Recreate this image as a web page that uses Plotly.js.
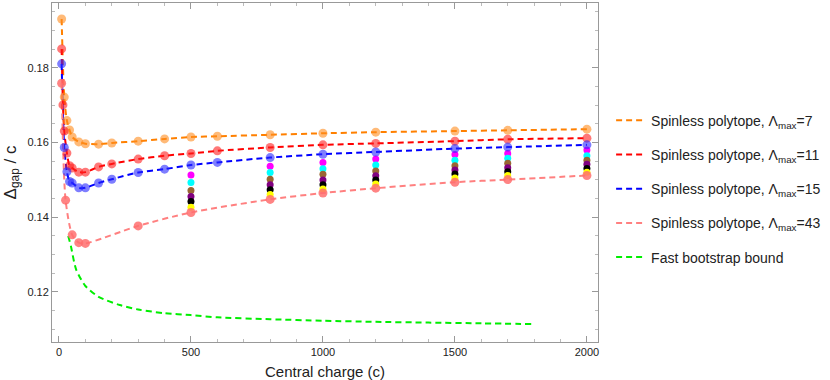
<!DOCTYPE html>
<html>
<head>
<meta charset="utf-8">
<script src="https://cdn.plot.ly/plotly-3.0.1.min.js"></script>
<style>
  html, body { margin: 0; padding: 0; background: #fff; }
  #graph-view { width: 830px; height: 380px; }
</style>
</head>
<body>
<div id="graph-view"></div>
<script>
// values
const cOrange = [10, 20, 30, 40, 50, 75, 100, 150, 200, 300, 400, 500, 600, 800, 1000, 1200, 1500, 1700, 2000];
const gOrange = [0.1931, 0.1722, 0.1659, 0.1634, 0.1615, 0.1602, 0.1597, 0.1596, 0.1599, 0.1604, 0.1610, 0.1615, 0.1617, 0.1621, 0.1625, 0.1628, 0.1631, 0.1633, 0.1636];

const cRed = [10, 15, 20, 30, 40, 50, 75, 100, 150, 200, 300, 400, 500, 600, 800, 1000, 1200, 1500, 1700, 2000];
const gRed = [0.1851, 0.1701, 0.1631, 0.1572, 0.1538, 0.1532, 0.1521, 0.1521, 0.1535, 0.1543, 0.1556, 0.1565, 0.1571, 0.1578, 0.1587, 0.1594, 0.1598, 0.1604, 0.1609, 0.1612];

const cBlue = [10, 20, 30, 40, 50, 75, 100, 150, 200, 300, 400, 500, 600, 800, 1000, 1200, 1500, 1700, 2000];
const gBlue = [0.1811, 0.1587, 0.1522, 0.1496, 0.1492, 0.1479, 0.1479, 0.1492, 0.1502, 0.1520, 0.1529, 0.1540, 0.1547, 0.1560, 0.1569, 0.1575, 0.1584, 0.1588, 0.1594];

const cPink = [10, 25, 50, 75, 100, 300, 500, 800, 1000, 1200, 1500, 1700, 2000];
const gPink = [0.1759, 0.1446, 0.1353, 0.1332, 0.1330, 0.1377, 0.1413, 0.1448, 0.1465, 0.1478, 0.1494, 0.1501, 0.1512];

const cBoot = [35, 45, 65, 100, 150, 230, 300, 400, 500, 600, 800, 1000, 1200, 1400, 1600, 1800];
const gBoot = [0.1350, 0.1323, 0.1260, 0.1216, 0.1187, 0.1165, 0.1153, 0.1143, 0.1138, 0.1132, 0.1127, 0.1123, 0.1120, 0.1118, 0.1116, 0.1114];

// the columns of extra points between the blue and pink curves
const cCols = [500, 800, 1000, 1200, 1500, 1700, 2000];
const gMagenta = [0.1513, 0.1537, 0.1547, 0.1556, 0.1568, 0.1571, 0.1580];
const gCyan = [0.1493, 0.1520, 0.1530, 0.1540, 0.1553, 0.1558, 0.1565];
const gBrown = [0.1472, 0.1502, 0.1515, 0.1524, 0.1538, 0.1545, 0.1553];
const gPurple = [0.1456, 0.1487, 0.1500, 0.1511, 0.1527, 0.1533, 0.1542];
const gBlack = [0.1442, 0.1474, 0.1487, 0.1500, 0.1516, 0.1522, 0.1531];
const gYellow = [0.1427, 0.1461, 0.1476, 0.1489, 0.1505, 0.1512, 0.1521];

const legendNames = [
  'Spinless polytope, Λ<sub>max</sub>=7',
  'Spinless polytope, Λ<sub>max</sub>=11',
  'Spinless polytope, Λ<sub>max</sub>=15',
  'Spinless polytope, Λ<sub>max</sub>=43',
  'Fast bootstrap bound'
];

const FONT = 'Liberation Sans, Arial, sans-serif';

function lineTrace(x, y, name, color, group) {
  return {
    x: x, y: y, name: name, legendgroup: group,
    mode: 'lines', type: 'scatter',
    line: { color: color, width: 2, dash: '6px,4px', shape: 'spline', smoothing: 0.7 }
  };
}

function dotTrace(x, y, color, size) {
  return {
    x: x, y: y, mode: 'markers', type: 'scatter', showlegend: false,
    marker: { color: color, size: size, line: { width: 0 } }
  };
}

const colColors = ['#ff00ff', '#00ffff', '#996633', '#800080', '#000000', '#ffff00'];
const colValues = [gMagenta, gCyan, gBrown, gPurple, gBlack, gYellow];

var data = [];
colValues.forEach((g, i) => data.push(dotTrace(cCols, g, colColors[i], 7)));

data.push(lineTrace(cOrange, gOrange, legendNames[0], '#ff8000', 'a'));
data.push(lineTrace(cRed, gRed, legendNames[1], '#ff0000', 'b'));
data.push(lineTrace(cBlue, gBlue, legendNames[2], '#0000ff', 'c'));
data.push(lineTrace(cPink, gPink, legendNames[3], '#ff8080', 'd'));
data.push(lineTrace(cBoot, gBoot, legendNames[4], '#00ee00', 'e'));

data.push(dotTrace(cOrange, gOrange, 'rgba(255,140,30,0.6)', 9));
data.push(dotTrace(cRed, gRed, 'rgba(255,30,30,0.6)', 9));
data.push(dotTrace(cBlue, gBlue, 'rgba(40,40,255,0.6)', 9));
data.push(dotTrace(cPink, gPink, 'rgba(255,110,110,0.85)', 9));

const axisCommon = {
  showgrid: false, zeroline: false,
  showline: true, mirror: 'ticks', linecolor: '#999', linewidth: 1,
  ticks: 'inside', ticklen: 6, tickcolor: '#999', tickwidth: 1,
  tickfont: { family: FONT, size: 11, color: '#222' }
};

var layout = {
  width: 830, height: 380,
  margin: { l: 52, r: 232, t: 3, b: 38 },
  paper_bgcolor: '#fff', plot_bgcolor: '#fff',
  font: { family: FONT, color: '#222' },
  xaxis: Object.assign({}, axisCommon, {
    range: [-26.5, 2042],
    tickvals: [0, 500, 1000, 1500, 2000],
    minor: { dtick: 100, tick0: 0, ticks: 'inside', ticklen: 3, tickcolor: '#bbb' },
    title: { text: 'Central charge (c)', font: { family: FONT, size: 15, color: '#222' }, standoff: 9 }
  }),
  yaxis: Object.assign({}, axisCommon, {
    range: [0.1066, 0.1974],
    tickvals: [0.12, 0.14, 0.16, 0.18],
    ticktext: ['0.12', '0.14', '0.16', '0.18'],
    minor: { dtick: 0.005, tick0: 0.12, ticks: 'inside', ticklen: 3, tickcolor: '#bbb' },
    title: { text: 'Δ<sub>gap</sub> / c', font: { family: FONT, size: 17, color: '#222' }, standoff: 6 }
  }),
  legend: {
    x: 1.024, xanchor: 'left', y: 0.7, yanchor: 'top',
    font: { family: FONT, size: 14, color: '#222' },
    tracegroupgap: 13, bgcolor: 'rgba(0,0,0,0)'
  }
};

Plotly.newPlot('graph-view', data, layout, { displayModeBar: false, staticPlot: true });
</script>
</body>
</html>
